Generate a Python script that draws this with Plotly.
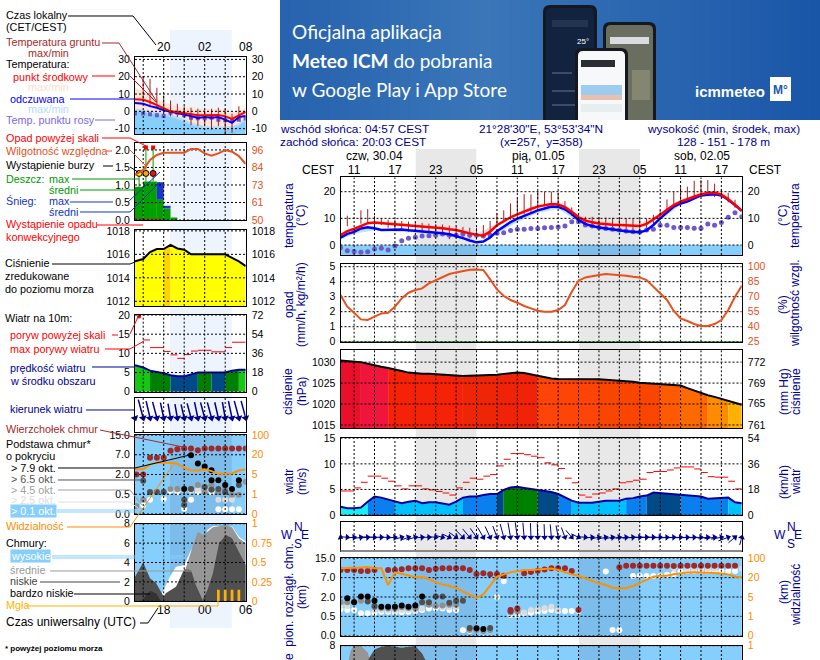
import numpy as np
import plotly.graph_objects as go

W, H = 820, 660
FONT = "Liberation Sans"
NAVY = "#000090"
SKY = "#86cefc"
SKY_BAND = "#7cbdeb"
ORANGE = "#ff8c00"
RH_COL = "#e8501c"

# ---- hourly data of the main (60 h) meteogram, hour 0 = 11:00 CEST on 30.04
hours = list(range(-2, 58))
t_mid = [3.7, 5.2, 6.0, 7.2, 8.2, 8.4, 8.1, 8.0, 7.8, 7.6, 7.4, 7.1, 6.9, 6.8, 6.6, 6.3, 5.9, 5.6, 5.0, 4.4,
         3.8, 3.5, 5.0, 7.4, 8.9, 10.4, 11.5, 12.6, 13.5, 14.4, 15.0, 15.4, 15.2, 14.2, 12.5, 10.4, 9.2, 8.5, 8.1, 7.8,
         7.6, 7.5, 7.3, 7.2, 7.1, 7.9, 9.5, 11.3, 13.2, 15.0, 16.3, 17.1, 18.1, 19.0, 19.5, 19.6, 18.9, 17.2, 15.2, 12.9]
t_feel = [2.8, 4.2, 4.9, 6.2, 6.7, 6.3, 5.6, 5.6, 5.8, 5.8, 5.5, 5.3, 5.2, 4.8, 4.6, 4.4, 4.0, 3.4, 2.6, 1.7,
          1.0, 1.3, 2.8, 5.2, 7.0, 8.6, 9.9, 11.0, 12.0, 13.0, 13.7, 14.4, 14.3, 13.4, 11.6, 9.4, 7.9, 7.1, 6.6, 6.2,
          5.9, 5.6, 5.2, 5.0, 4.8, 5.5, 7.5, 10.0, 12.3, 14.4, 15.6, 16.3, 17.5, 18.6, 18.9, 19.0, 18.6, 17.0, 15.0, 12.8]
t_dew = [-1, -2.2, -2.4, -2.7, -2.5, -1.5, -1.2, -1.9, -0.4, 1.6, 2.5, 2.9, 3.4, 3.5, 3.7, 4.1, 3.7, 3.7, 4.1, 3.7,
         3.7, 3.4, 3.7, 4.4, 4.6, 5.4, 5.9, 5.9, 6.2, 6.2, 6.5, 6.6, 6.8, 7.1, 8.75, 8.75, 7.5, 7.1, 6.6, 6.2,
         5.9, 5.6, 5.3, 5.0, 4.9, 5.6, 5.9, 7.4, 7.4, 6.6, 6.6, 6.6, 6.3, 6.3, 7.9, 7.4, 8.4, 10.4, 12.1, 10.6]
ground_max = [None, 11, None, 13, 13.5, 11, 10, 9.5, 9.5, 9, 8.8, 8.5, 8.3, 8, 7.8, 7.7, 7.3, 7, 6.8, 6.5,
              6.5, 7.5, 9, 11.9, 13, 15.6, 17.5, 19.1, 19, 20, 20, 20, 19.6, 16.5, 14.1, 11.9, 10.6, 10.6, 10.4, 10.3,
              10.2, 10, 10, 10, 9.8, 10, 11.3, 13, 17.1, 20, 21.9, 21.9, 24.1, 24.4, 24.4, 23, 21, 19.6, 17, None]
ground_min = [None, 7, None, 8, 8, 7.5, 7.5, 6.5, 6, 5.6, 5, 4.8, 4.7, 4.5, 4.2, 3.7, 2.2, 3.5, 3, 2.5,
              2, 2.5, 4.5, 7, 8.5, 9.5, 10.5, 11.5, 12.5, 13.5, 14.5, 15, 14.5, 13, 11, 9.4, 7.7, 6.9, 6.3, 5.8,
              5.5, 5.1, 5, 4.9, 4.8, 6, 8, 11, 13, 15, 16, 16.8, 17.5, 18, 18.5, 18, 17.5, 16, 14, None]
band_h = [-2, 0, 3, 6, 9, 12, 15, 18, 21, 24, 27, 30, 33, 36, 39, 42, 45, 48, 51, 54, 57]
t_mid_hi = [4.2, 6.8, 9, 8.5, 7.6, 7.2, 6.3, 4.3, 8, 12.2, 15.3, 16, 11.5, 9, 8.3, 8, 12, 17, 20, 20.3, 13.8]
t_feel_lo = [2, 4.2, 5.5, 5, 4.7, 3.8, 2.8, 0.4, 4.5, 8.5, 12, 13.6, 8.5, 5.6, 4.5, 3.9, 9.5, 15, 18, 18.5, 12]

humidity = [71.7, 60, 54, 47.3, 46.7, 50, 53.3, 54, 60, 68.3, 74, 76.7, 78.3, 83.3, 86.7, 89.3, 92.7, 94.3, 96, 97,
            97.3, 96.7, 87.3, 77.3, 70.7, 66.7, 64, 60.7, 58.3, 56, 55, 55, 56.7, 61.7, 75, 86, 89.3, 90.7, 91.7, 92.7,
            92.3, 91.7, 91, 90, 89.3, 86.7, 80, 74, 66.7, 55.7, 48.3, 45.7, 42.7, 40.7, 40.7, 42.7, 46.7, 56.7, 70, 81]
rain = [0] * 60

pressure = [1030.4, 1030.3, 1030.2, 1030.0, 1029.6, 1029.2, 1028.9, 1028.6, 1028.3, 1027.9, 1027.5, 1027.3,
            1027.25, 1027.2, 1027.1, 1026.9, 1026.75, 1026.7, 1026.7, 1026.75, 1026.8, 1026.9, 1026.95, 1027.0,
            1027.2, 1027.4, 1027.5, 1027.4, 1027.1, 1026.7, 1026.4, 1026.1, 1026.0, 1026.0, 1026.05, 1026.0,
            1026.0, 1025.95, 1025.9, 1025.8, 1025.7, 1025.6, 1025.45, 1025.3, 1025.1, 1025.0, 1024.85, 1024.7,
            1024.6, 1024.5, 1024.4, 1023.8, 1023.2, 1022.6, 1022.1, 1021.7, 1021.2, 1020.7, 1020.2, 1019.8]
pressure_breaks = [-2, 1, 5, 16, 21, 27, 36, 45, 48, 52, 55, 57]
pressure_cols = ["#ea0f2a", "#f0153c", "#f52208", "#ee2605", "#f02208", "#ff4408", "#f84500", "#ff5a00",
                 "#ff6a00", "#ff8c00", "#ffb000"]

wind = [1.6, 1.3, 1.3, 1.45, 2.6, 3.6, 3.4, 3.0, 2.6, 2.3, 2.6, 2.8, 2.3, 2.5, 2.5, 2.2, 2.0, 2.6, 3.4, 3.6,
        3.6, 3.9, 4.1, 4.1, 4.9, 5.4, 5.5, 5.3, 5.1, 4.9, 4.6, 4.5, 4.1, 3.4, 2.8, 2.4, 2.4, 2.4, 2.6, 2.8,
        2.8, 2.8, 3.2, 3.3, 3.6, 3.8, 4.4, 4.3, 4.1, 4.1, 3.9, 3.9, 3.8, 3.6, 3.2, 3.3, 3.35, 3.4, 2.5, 2.3]
gust = [4.7, 4.7, 5.3, 6.4, 7.6, 7.6, 7.2, 6.6, 5.7, 5.1, 5.7, 5.7, 5.1, 4.9, 4.6, 4.3, 3.9, 5.3, 6.4, 7.2,
        7.0, 7.6, 7.9, 9.6, 10.9, 12, 12, 11.8, 11.5, 11.2, 10.2, 9.8, 9.1, 7.2, 6.3, 3.9, 3.5, 4.1, 4.3, 4.7,
        5.1, 6.3, 6.5, 6.8, 7.0, 8.3, 8.5, 8.5, 8.8, 9.2, 9.4, 9.4, 9.0, 8.3, 7.5, 7.4, 7.4, 6.6, 5.1]
wind_breaks = [-2, 2, 6, 16, 21, 22, 27, 30, 32, 40, 43, 48, 55, 57]
wind_cols = ["#14f0f5", "#0a80ee", "#00c0ff", "#0a80ee", "#004a88", "#008000", "#004a88", "#0a80ee",
             "#00c0ff", "#0a80ee", "#004a88", "#0a80ee", "#00c0ff"]
wind_dir = [115, 95, 85, 80, 85, 92, 90, 90, 85, 75, 70, 75, 85, 90, 95, 105, 115, 125, 135, 140,
            145, 150, 155, 160, 165, 170, 172, 175, 178, 178, 178, 175, 170, 160, 140, 115, 95, 85, 80, 78,
            80, 82, 85, 85, 88, 90, 90, 90, 88, 88, 88, 88, 88, 88, 85, 82, 80, 70, 50, 15]

top_km = [10.2, 10.2, 10.2, 9.8, 9.7, 10.2, 10.2, 10.2, 10.5, 10.85, 10.85, 10.85, 10.2, 10.7, 10.85, 10.85, 10.85,
          10.85, 10.2, 8.5, 8.8, 8.4, 8.5, 7.8, 1.0, 1.1, 8.8, 9.3, 9.9, 10.4, 10.85, 10.85, 10.85, 9.7, 1.0,
          11.3, 11.96, 11.96, 11.96, 11.96, 11.96, 11.96, 11.96, 11.8, 11.96, 11.96, 11.96, 11.96, 11.96, 11.96, 11.96, 11.96, 11.96]
top_h = [-2, -1, 0, 1, 2, 3, 5, 6, 7, 8, 9, 10, 11, 12, 13, 14, 15, 16, 17, 18, 19, 20, 21, 22, 23, 24,
         25, 26, 27, 28, 29, 30, 31, 32, 33, 39, 40, 41, 42, 43, 44, 45, 46, 47, 48, 49, 50, 51, 52, 53, 54, 55, 56]
b79_h = [-1, 0, 1, 2, 3, 4, 5, 6, 7, 8, 9, 10, 18, 19]
b79_km = [1.9, 1.6, 2.1, 2.1, 1.7, 1.25, 1.25, 1.25, 1.35, 1.25, 1.35, 2.1, 0.19, 0.17]
b65_h = [2, 3, 10, 11, 12, 13, 14, 15, 16, 17, 20, 23]
b65_km = [1.65, 1.3, 1.6, 1.6, 2.1, 2.1, 1.55, 1.7, 1.7, 0.2, 0.2, 0.9]
b45_h = [-2, -1, 0, 1, 3, 4, 5, 6, 7, 8, 9, 11, 12, 13, 14, 15, 17, 18, 19, 20, 23, 24]
b45_km = [1.6, 1.6, 1.65, 1.7, 1.2, 1.15, 1.1, 1.1, 1.2, 1.15, 1.1, 1.4, 1.3, 1.35, 1.4, 1.4, 0.15, 0.15, 0.12, 0.15, 0.8, 0.9]
b25_h = [-2, -1, 3, 4, 5, 6, 7, 8, 9, 10, 13, 14, 15, 24, 25, 26, 27, 28, 29, 30, 47, 49, 50, 51, 52, 53, 57]
b25_km = [1.3, 1.3, 1.0, 1.0, 0.95, 0.95, 1.0, 1.0, 1.0, 1.1, 1.2, 1.2, 1.2, 0.8, 0.8, 1.0, 1.05, 1.15, 1.25, 1.0, 10.9, 10.7, 10.7, 10.7, 10.7, 10.7, 10.7]
b01_h = [-2, -1, 0, 1, 2, 3, 4, 5, 6, 7, 8, 9, 10, 11, 12, 13, 14, 15, 16, 17, 21, 22, 23, 24, 25, 26, 27, 28, 29, 30, 31, 32, 33,
         37, 38, 39, 41, 42, 43, 44, 45, 46, 47, 48, 49, 50, 51, 52, 53, 54, 55, 56]
b01_km = [1.05, 1.0, 1.0, 0.74, 0.74, 0.78, 0.86, 0.86, 0.82, 0.82, 0.86, 0.92, 1.0, 1.1, 1.1, 1.1, 1.0, 1.0, 0.14, 0.13, 2.0, 6.1,
          0.6, 0.6, 0.74, 0.78, 0.86, 0.92, 1.0, 0.92, 0.92, 0.92, 0.92, 9.5, 0.15, 0.15, 7.7, 7.7, 7.7, 7.7, 7.7, 8.2, 8.5, 9.5, 9.8, 9.8, 9.8, 9.8, 9.8, 9.8, 9.8, 9.8]
visibility = [58.6, 58.6, 61.6, 61.6, 64, 58.6, 58.6, 14.3, 42, 35, 28, 22.4, 22.4, 19, 16.1, 14.9, 13.3, 12.2, 9.2, 6.5,
              4.8, 7, 14.3, 24, 33.6, 42, 46.4, 52, 52, 54.4, 57.6, 57.6, 52, 42, 33.6, 28, 19.5, 17.6, 15.6, 14.3,
              12.2, 11.8, 11.8, 13.5, 16.1, 18.7, 24, 28, 28, 33.6, 37.6, 40.8, 42, 42, 40.8, 39, 37.6, 33.6, 24, 22.4]
cl_mid_h = [-2, -0.8, -0.5, 0, 1, 2, 2.6]
cl_mid = [6, 6.5, 7.5, 8, 8, 7.3, 6]
cl_low_h = [1.6, 2, 3, 4, 5, 6, 7, 8, 9, 10, 10.5, 11]
cl_low = [6, 6.5, 7.6, 7.9, 8, 7.9, 7.8, 7.9, 7.95, 7.2, 6.5, 6]

# ---- 16 h panel on the left, hour labels are local time
hours_l = [15.8] + list(range(17, 33))
temp_l = [7, 6.7, 5.4, 3.5, 1.5, 0, -0.4, -1, -1.7, -2.3, -2.3, -2.3, -2.1, -2.9, -4.4, -2.3, -0.4]
feel_l = [4.8, 4.4, 3, 2.1, 0.6, -0.2, -1, -1.7, -2.7, -3.8, -3.3, -3.7, -3.3, -4.8, -6.7, -3.3, -2.7]
dew_l = [-1.3, -1.3, -1.7, -2.3, -2.7, -0.8, -0.8, -2.3, -3.7, -4, -4, -3.7, -4.8, -5.2, -5.6, -4.8, -4.2]
temp_hi_l = [13.5, 11.7, 9.2, 7.3, 5.4, 4, 2.9, 2.1, 2.5, 2.1, 1.5, 1.2, 1.5, 1.2, -0.4, 0, 2.5]
feel_lo_l = [0, -0.5, -1.2, -1.8, -2.5, -3.3, -4.5, -6, -8, -9, -9.8, -10.2, -10.2, -10.2, -10, -8.5, -5.2]
ground_max_l = [None, 20.2, 18.8, 13.6, 9.2, 6.3, 4.4, 2.9, 2.1, 1.5, 0.6, 1.5, 2.1, 1.5, -1.3, 2.9, None]
ground_min_l = [None, 6.3, 3.5, 2.5, 1.5, -2.9, -3.3, -2.3, -8, -8.6, -8, -10.6, -8.6, -12.9, -12.5, -5.2, None]

rain_h = [16.4, 17.5, 18.5, 19.5, 20.5, 21.5]
rain_w = [1.2, 1, 1, 1, 1, 1]
rain_l = [0.95, 1.1, 1.1, 0.58, 0.33, 0.07]
snow_l = [0, 0, 0, 0.5, 0.08, 0]
rain_max_h = [16.4, 17.4, 18.45]
rain_max = [1.33, 2.07, 2.07]
over_scale_h = [17.4, 18.45]
over_scale = [2.07, 2.07]
storm = [1.33, 1.33, 1.33]
storm_cols = ["#ffee00", "#ffa000", "#ee1010"]
humidity_l = [79.6, 82.9, 89.4, 92.7, 94.2, 94.2, 94.2, 94.2, 96.7, 96.7, 93.8, 92.3, 93.8, 96, 94.9, 92, 86.8]

pressure_l = [1015.4, 1015.6, 1016.2, 1016.45, 1016.45, 1016.8, 1016.5, 1016.4, 1016, 1016, 1016, 1016, 1016, 1016, 1015.7, 1015.4, 1015]
pressure_l_breaks = [15.8, 20, 21, 32]
pressure_l_cols = ["#ffff00", "#ffd400", "#ffff00"]

wind_l = [6.9, 6.3, 5.5, 5.2, 4.8, 4.3, 4, 4, 4.5, 5, 5, 5, 5, 5, 5.5, 5.7, 5.7]
gust_l_h = [17, 18, 20, 21, 22, 23, 24, 25, 27, 29, 30]
gust_l_end = [18, 20, 21, 22, 23, 24, 25, 27, 29, 30, 32]
gust_l = [13.5, 11.5, 10.5, 9.6, 8.7, 9.7, 10.6, 10.8, 10.4, 11.5, 12.9]
wind_l_breaks = [15.8, 18, 21, 25, 27, 29, 31, 32]
wind_l_cols = ["#14c814", "#008000", "#004a88", "#008000", "#004a88", "#008000", "#14c814"]
wind_dir_l = [160, 165, 167, 165, 168, 170, 170, 167, 165, 168, 165, 165, 167, 170, 168, 165, 165]

top_l_h = list(range(16, 33))
top_l = [2, 2, 6.25, 6.25, 6.25, 8.6, 9.2, 9.5, 9.5, 8.8, 9.5, 9.5, 9.5, 9.5, 9.5, 9.5, 9.5]
b79_l_h = [23, 24, 25, 26, 27, 27, 28, 29, 30, 31]
b79_l = [0.9, 6.9, 4.8, 4, 3.1, 1.56, 1.56, 1.2, 0.9, 1.56]
b65_l_h = [17, 18, 19, 20, 23, 23, 24, 26, 27, 28, 29, 31]
b65_l = [1.53, 0.67, 0.67, 0.67, 0.36, 0.23, 0.9, 1.05, 0.85, 0.9, 0.67, 1.2]
b45_l_h = [16, 17, 21, 22, 24, 25, 26, 27, 28, 29, 30, 31, 32]
b45_l = [0.2, 0.36, 0.9, 0.9, 0.9, 1.2, 0.67, 1.2, 0.67, 0.9, 0.49, 0.49, 1.45]
b25_l_h = [16, 21, 22, 23, 24, 25, 26, 28, 29, 30]
b25_l = [0.2, 0.9, 0.85, 0.85, 0.75, 0.85, 0.75, 0.36, 0.36, 0.36]
b01_l_h = [17, 18, 20, 23, 24, 21, 22, 25, 26, 27, 28, 29, 30, 31]
b01_l = [0.23, 0.36, 0.38, 0.13, 0.36, 0.75, 0.67, 0.67, 0.67, 0.67, 0.12, 0.12, 0.12, 0.12]
vis_l = [8.9, 8.9, 12.7, 14, 14, 14, 13.2, 10.1, 8, 8, 8.9, 7.6, 5.5, 5.5, 5.8, 8, 8.9]

cl_high_h = [19.2, 20, 20.9, 21.8, 23, 24, 24.7, 25.7, 26.4, 27.2, 30, 31, 32]
cl_high = [0, 1.17, 2.54, 3.57, 3.75, 5.3, 6, 6, 7.35, 7.77, 7.7, 6.67, 6.15]
cl_mid_l_h = [21.8, 23, 24.3, 25, 25.7, 26.4, 27.2, 29.1, 30, 31, 32]
cl_mid_l = [0.82, 2.89, 5.8, 7.18, 6.84, 7.18, 7.63, 7.87, 7.63, 6.5, 5.98]
cl_low_l_h = [15.8, 17, 18, 18.9, 20, 20.3, 21.8, 23, 24, 24.7, 25.7, 26.4, 27.2, 28.1, 29.1, 30, 31, 32]
cl_low_l = [2.54, 3.99, 2.37, 1.86, 0.48, 0.82, 1.51, 3.3, 3.23, 1.68, 0.14, 1.17, 2.89, 5.98, 6.84, 6.5, 5.12, 3.75]
cl_vlow_h = [16.8, 17.5, 18, 18.9, 19.6]
cl_vlow = [0, 0.7, 1.1, 0.8, 0]
fog_h = [28, 29, 30, 31]
fog = [0.15, 0.15, 0.15, 0.15]

for series in (t_mid, t_feel, t_dew, ground_max, ground_min, humidity, pressure, wind, wind_dir, visibility):
    assert len(series) == 60, len(series)

BASE_KM = [0, 0.5, 2, 7, 15]
VIS_KM = [0, 1, 5, 20, 100]
LEVELS = [0, 1, 2, 3, 4]


def base_idx(km):
    return np.interp(km, BASE_KM, LEVELS)


def vis_idx(km):
    return np.interp(km, VIS_KM, LEVELS)


fig = go.Figure()
layout = {}
shapes = []
notes = []
panels = []


def rect(x0, y0, x1, y1, color, layer="below"):
    shapes.append(dict(type="rect", xref="paper", yref="paper", x0=x0 / W, x1=x1 / W, y0=1 - y0 / H, y1=1 - y1 / H,
                       fillcolor=color, line_width=0, layer=layer))


def lead(points, color, width=1):
    path = "M" + " L".join(f"{x / W:.5f},{1 - y / H:.5f}" for x, y in points)
    shapes.append(dict(type="path", xref="paper", yref="paper", path=path,
                       line=dict(color=color, width=width), layer="above"))


def note(x, y, text, color="black", size=10.8, anchor="left", angle=0, bg=None):
    notes.append(dict(xref="paper", yref="paper", x=(x - 1 if anchor == "left" else x) / W, y=1 - y / H, text=text,
                      showarrow=False, xanchor=anchor, yanchor="middle", textangle=angle, bgcolor=bg, borderpad=0,
                      font=dict(family=FONT, size=size, color=color)))


def rounded(x0, y0, x1, y1, r, color):
    a, b, c, d = x0 / W, x1 / W, 1 - y0 / H, 1 - y1 / H
    rx, ry = r / W, r / H
    path = (f"M{a + rx},{c} L{b - rx},{c} Q{b},{c} {b},{c - ry} L{b},{d} L{a},{d} L{a},{c - ry} Q{a},{c} {a + rx},{c} Z")
    shapes.append(dict(type="path", xref="paper", yref="paper", path=path, fillcolor=color, line_width=0, layer="below"))


def panel(box, xr, xgrid, yr, yt, yl, rr=None, rt=None, rl=None, rcol="black", top=None, bottom=None, grid_y=True,
          xoff=0):
    n = len(panels) * 2 + 1
    x0, y0, x1, y1 = box
    rr, rt, rl = rr or yr, rt or yt, rl or yl
    dom_y = [1 - y1 / H, 1 - y0 / H]
    tick = dict(family=FONT, size=10.5, color="black")
    xticks = top or bottom or ([], [])
    layout[f"xaxis{n}"] = dict(domain=[x0 / W, x1 / W], range=xr, anchor=f"y{n}", showgrid=False, zeroline=False,
                               showline=True, mirror=True, linecolor="black", linewidth=1, ticks="",
                               tickmode="array", tickvals=xticks[0], ticktext=xticks[1], side="top" if top else "bottom",
                               tickfont=dict(family=FONT, size=12, color="black"), ticklabelstandoff=xoff)
    layout[f"yaxis{n}"] = dict(domain=dom_y, range=yr, anchor=f"x{n}", showgrid=False, zeroline=False, showline=True,
                               mirror=True, linecolor="black", linewidth=1, ticks="", tickmode="array", tickvals=yt,
                               ticktext=yl, tickfont=tick, ticklabelstandoff=2)
    layout[f"yaxis{n + 1}"] = dict(domain=dom_y, range=rr, anchor=f"x{n}", overlaying=f"y{n}", side="right",
                                   showgrid=False, zeroline=False, ticks="", tickmode="array", tickvals=rt, ticktext=rl,
                                   tickfont=dict(family=FONT, size=10.5, color=rcol), ticklabelstandoff=5)
    p = dict(x=f"x{n}", y=f"y{n}", r=f"y{n + 1}", xgrid=xgrid, ygrid=yt if grid_y else [], xr=xr)
    panels.append(p)
    fig.add_trace(go.Scatter(x=[xr[0]], y=[rt[0]], mode="none", xaxis=p["x"], yaxis=p["r"], hoverinfo="skip"))
    return p


def line(p, x, y, color, width=1, right=False, dash=None, shape=None):
    fig.add_trace(go.Scatter(x=x, y=y, mode="lines", xaxis=p["x"], yaxis=p["r"] if right else p["y"], hoverinfo="skip",
                             line=dict(color=color, width=width, dash=dash, shape=shape)))


def dots(p, x, y, color, size=6, symbol="circle", right=False):
    fig.add_trace(go.Scatter(x=x, y=y, mode="markers", xaxis=p["x"], yaxis=p["r"] if right else p["y"],
                             hoverinfo="skip", marker=dict(color=color, size=size, symbol=symbol, line_width=0)))


def poly(p, x, y, color):
    fig.add_trace(go.Scatter(x=list(x), y=list(y), mode="none", fill="toself", fillcolor=color, hoverinfo="skip",
                             xaxis=p["x"], yaxis=p["y"]))


def area(p, x, y, base, color):
    poly(p, list(x) + [x[-1], x[0]], list(y) + [base, base], color)


def steps(p, x, y, base, breaks, colors):
    # one polygon for each stretch of the same colour
    for a, b, col in zip(breaks[:-1], breaks[1:], colors):
        keep = [i for i, h in enumerate(x) if a <= h <= b]
        area(p, [x[i] for i in keep], [y[i] for i in keep], base, col)


def whiskers(p, x, lo, hi, color):
    xs, ys = [], []
    for h, a, b in zip(x, lo, hi):
        if a is not None:
            xs += [h, h, None]
            ys += [a, b, None]
    line(p, xs, ys, color)


def arrows(p, x, speed, direction, head_y, width=1, head=6):
    xs, ys = [], []
    dom = layout["xaxis" + p["x"][1:]]["domain"]
    px_per_h = (dom[1] - dom[0]) * W / (p["xr"][1] - p["xr"][0])
    for h, w, a in zip(x, speed, direction):
        length = 3 + 2.2 * w
        xs += [h - length * np.sin(np.radians(a)) / px_per_h, h, None]
        ys += [head_y - length * np.cos(np.radians(a)), head_y, None]
    fig.add_trace(go.Scatter(x=xs, y=ys, mode="lines", xaxis=p["x"], yaxis=p["y"], hoverinfo="skip", cliponaxis=False,
                             line=dict(color=NAVY, width=width)))
    fig.add_trace(go.Scatter(x=x, y=[head_y] * len(x), mode="markers", xaxis=p["x"], yaxis=p["y"], hoverinfo="skip",
                             cliponaxis=False, marker=dict(color=NAVY, size=head, symbol="triangle-up", angle=direction,
                                                           line_width=0)))


def cloud_base(p, series):
    for x, km, color in series:
        dots(p, x, base_idx(km), color, 6)


def sky(box, band):
    x0, y0, x1, y1 = box
    rect(x0, y0, x1, y1, SKY)
    for a, b in band:
        rect(max(a, x0), y0, min(b, x1), y1, SKY_BAND)


# ---- backgrounds
for i in range(54):
    t = abs(i - 20) / 34
    rect(280 + i * 10, 0, 290 + i * 10, 120, f"rgb({int(58 - 32 * t)},{int(118 - 32 * t)},{int(184 - 16 * t)})")
rect(170, 30, 231.7, 628, "#eef4fd")
rect(415.7, 149, 476.3, 660, "#e8e8e8")
rect(579, 149, 640, 660, "#e8e8e8")

# phones in the banner
rounded(543, 5, 597, 120, 7, "#15181f")
rounded(546, 8, 594, 120, 5, "#12233f")
rect(552, 20, 588, 27, "#22344f")
rect(552, 72, 572, 74, "#3c4c68")
rect(552, 90, 590, 92, "#3c4c68")
rect(552, 104, 590, 106, "#3c4c68")
rounded(603, 22, 656, 120, 7, "#15181f")
rounded(606, 25, 653, 120, 5, "#6a6e5e")
rect(610, 37, 649, 44, "#d8dce0")
rect(632, 70, 650, 100, "#858672")
rounded(575, 48, 628, 120, 7, "#15181f")
rounded(578, 51, 625, 120, 5, "#f6f8fa")
rect(581, 60, 615, 67, "#2a2e34")
rect(581, 85, 622, 95, "#9ecbf0")
rect(581, 95, 622, 100, "#e8c0b0")
rect(581, 104, 622, 112, "#e6eef0")
rect(770, 77, 791, 101, "#ffffff")
note(292, 32, "Oficjalna aplikacja", "white", 19)
note(292, 61, "<b>Meteo ICM</b> do pobrania", "white", 19)
note(292, 89, "w Google Play i App Store", "white", 19)
notes[-3]["font"]["family"] = notes[-2]["font"]["family"] = notes[-1]["font"]["family"] = "Lato"
note(577, 42, "25°", "white", 8)
note(695, 91, "<b>icmmeteo</b>", "white", 15)
note(780, 90, "<b>M°</b>", "#1c58a8", 12, "center")

# ---- left column
xr_l = [15.8, 32]
grid_l = [17, 20, 23, 26, 29]
ticks_l = [20, 26, 32]
band_l = [(170, 231.7)]

p = panel((135, 57, 245.7, 134), xr_l, grid_l, [-13.1, 31.4], [30, 20, 10, 0, -10], ["30", "20", "10", "0", "-10"],
          top=(ticks_l, ["20", "02", "08"]))
area(p, hours_l, temp_hi_l, -13.1, "#ffe4d8")
area(p, hours_l, [v + 1.5 for v in feel_lo_l], -13.1, "#b4dcf8")
area(p, hours_l, feel_lo_l, -13.1, SKY)
dots(p, hours_l, dew_l, "#6a5acd", 4, "square")
whiskers(p, hours_l, ground_min_l, ground_max_l, "#a52020")
line(p, hours_l, feel_l, "#0000ff", 2)
line(p, hours_l, temp_l, "#ff0000", 2)

p = panel((135, 143.3, 245.7, 220), xr_l, grid_l, [0, 2.19], [0, 0.5, 1, 1.5, 2], ["0.0", "0.5", "1.0", "1.5", "2.0"],
          rr=[50, 100.4], rt=[50, 61.5, 73, 84.5, 96], rl=["50", "61", "73", "84", "96"], rcol=RH_COL)
fig.add_trace(go.Bar(x=rain_h, y=rain_l, width=rain_w, marker=dict(color="#00a000", line_width=0), xaxis=p["x"],
                     yaxis=p["y"], hoverinfo="skip"))
fig.add_trace(go.Bar(x=rain_h, y=snow_l, base=rain_l, width=rain_w, marker=dict(color="#1a35d0", line_width=0),
                     xaxis=p["x"], yaxis=p["y"], hoverinfo="skip"))
whiskers(p, rain_max_h, rain_l, rain_max, "#00a000")
dots(p, over_scale_h, over_scale, "#ff0000", 4, "square")
fig.add_trace(go.Scatter(x=rain_max_h, y=storm, mode="markers", xaxis=p["x"], yaxis=p["y"], hoverinfo="skip",
                         marker=dict(color=storm_cols, size=6, line=dict(color="black", width=1))))
line(p, [15.8, 19.7], [0.02, 0.02], "#ff0000", 2, dash="2px,2px")
line(p, hours_l, humidity_l, RH_COL, 2, right=True)

p = panel((135, 229.7, 245.7, 306), xr_l, grid_l, [1011.6, 1018.1], [1018, 1016, 1014, 1012],
          ["1018", "1016", "1014", "1012"])
steps(p, hours_l, pressure_l, 1011.6, pressure_l_breaks, pressure_l_cols)
line(p, hours_l, pressure_l, "black", 2)

p = panel((135, 315, 245.7, 391.7), xr_l, grid_l, [0, 20], [20, 15, 10, 5, 0], ["20", "15", "10", "5", "0"],
          rr=[0, 72], rt=[72, 54, 36, 18, 0], rl=["72", "54", "36", "18", "0"])
steps(p, hours_l, wind_l, 0, wind_l_breaks, wind_l_cols)
line(p, hours_l, wind_l, "#0000a0", 2)
for a, b, v in zip(gust_l_h, gust_l_end, gust_l):
    line(p, [a, b], [v, v], "#ff0000")
dots(p, [16.4], [19.6], "#ff0000", 4)

p = panel((135, 398, 245.7, 432), xr_l, grid_l, [0, 34], [], [], grid_y=False, rt=[0], rl=[""])
arrows(p, hours_l, [w + 1 for w in wind_l], wind_dir_l, 14, 1.5, 7)

sky((135, 435, 245.7, 514), band_l)
p = panel((135, 435, 245.7, 514), xr_l, grid_l, [0, 4], LEVELS, ["0.0", "0.5", "2.0", "7.0", "15.0"],
          rr=[0, 4], rt=LEVELS, rl=["0", "1", "5", "20", "100"], rcol=ORANGE)
cloud_base(p, [(b01_l_h, b01_l, "#ffffff"), (b25_l_h, b25_l, "#dcdcdc"), (b45_l_h, b45_l, "#8f8f8f"),
               (b65_l_h, b65_l, "#505050"), (b79_l_h, b79_l, "#000000"), (top_l_h, top_l, "#a02828")])
line(p, hours_l, vis_idx(vis_l), "#ff9000", 2, right=True)

sky((135, 523.7, 245.7, 601.3), band_l)
p = panel((135, 523.7, 245.7, 601.3), xr_l, grid_l, [0, 8], [8, 6, 4, 2, 0], ["8", "6", "4", "2", "0"],
          rr=[0, 1], rt=[1, 0.75, 0.5, 0.25, 0], rl=["1", "0.75", "0.5", "0.25", "0"], rcol=ORANGE,
          bottom=(ticks_l, ["18", "00", "06"]), xoff=-3)
area(p, cl_high_h, cl_high, 0, "#ffffff")
area(p, cl_mid_l_h, cl_mid_l, 0, "#969696")
area(p, cl_low_l_h, cl_low_l, 0, "#505050")
area(p, cl_vlow_h, cl_vlow, 0, "#333333")
fig.add_trace(go.Bar(x=fog_h, y=fog, width=0.4, marker=dict(color="#ffb000", line_width=0), xaxis=p["x"], yaxis=p["r"],
                     hoverinfo="skip"))

# ---- main column
xr = [-2, 57]
grid_m = list(range(0, 57, 3))
box_x = (340.5, 741.8)
ticks_m = list(range(0, 55, 6))
labels_m = ["11", "17", "23", "05", "11", "17", "23", "05", "11", "17"]

rect(box_x[0], 245, box_x[1], 255, SKY)
rect(415.7, 245, 476.3, 255, SKY_BAND)
rect(579, 245, 640, 255, SKY_BAND)
p = panel((box_x[0], 177.3, box_x[1], 255), xr, grid_m, [-3.75, 25.4], [20, 10, 0], ["20", "10", "0"],
          top=(ticks_m, labels_m), xoff=-2)
poly(p, band_h + hours[::-1], t_mid_hi + t_mid[::-1], "#ffdcd6")
poly(p, hours + band_h[::-1], t_feel + t_feel_lo[::-1], "#bfe3fa")
whiskers(p, hours, ground_min, ground_max, "#a52020")
dots(p, hours, t_dew, "#6a5acd", 5)
line(p, hours, t_feel, "#0000ff", 2.5)
line(p, hours, t_mid, "#ff0000", 2.5)

p = panel((box_x[0], 264, box_x[1], 341.7), xr, grid_m, [0, 5.18], [5, 4, 3, 2, 1, 0], ["5", "4", "3", "2", "1", "0"],
          rr=[25, 102.7], rt=[100, 85, 70, 55, 40, 25], rl=["100", "85", "70", "55", "40", "25"], rcol=RH_COL)
line(p, hours, rain, "#00a000")
line(p, hours, humidity, RH_COL, 2, right=True)

p = panel((box_x[0], 350, box_x[1], 428.3), xr, grid_m, [1014.2, 1032.9], [1030, 1025, 1020, 1015],
          ["1030", "1025", "1020", "1015"], rr=[1014.2 * 0.75006, 1032.9 * 0.75006], rt=[772.6, 768.8, 765.1, 761.3],
          rl=["772", "769", "765", "761"])
steps(p, hours, pressure, 1014.2, pressure_breaks, pressure_cols)
line(p, hours, pressure, "black", 2)

p = panel((box_x[0], 438.3, box_x[1], 515), xr, grid_m, [0, 15], [15, 10, 5, 0], ["15", "10", "5", "0"],
          rr=[0, 54], rt=[54, 36, 18, 0], rl=["54", "36", "18", "0"])
steps(p, hours, wind, 0, wind_breaks, wind_cols)
line(p, hours, wind, "#0000a0", 2)
for h, v in zip(hours, gust):
    line(p, [h, h + 1], [v, v], "#ff0000")

p = panel((box_x[0], 521.7, box_x[1], 551), xr, grid_m, [0, 29.3], [], [], grid_y=False, rt=[0], rl=[""])
arrows(p, hours, wind, wind_dir, 13.7)
rect(box_x[0], 550, box_x[1], 552, "#888888", "above")

band_m = [(415.7, 476.3), (579, 640)]
sky((box_x[0], 558.3, box_x[1], 635.7), band_m)
p = panel((box_x[0], 558.3, box_x[1], 635.7), xr, grid_m, [0, 4], LEVELS, ["0.0", "0.5", "2.0", "7.0", "15.0"],
          rr=[0, 4], rt=LEVELS, rl=["0", "1", "5", "20", "100"], rcol=ORANGE)
cloud_base(p, [(b01_h, b01_km, "#ffffff"), (b25_h, b25_km, "#dcdcdc"), (b45_h, b45_km, "#8f8f8f"),
               (b65_h, b65_km, "#505050"), (b79_h, b79_km, "#000000"), (top_h, top_km, "#a02828")])
line(p, hours, vis_idx(visibility), "#ff9000", 2, right=True)

sky((box_x[0], 645.7, box_x[1], 660), band_m)
p = panel((box_x[0], 645.7, box_x[1], 660), xr, grid_m, [6.53, 8], [8], ["8"], rr=[0.816, 1], rt=[1], rl=["1"],
          rcol=ORANGE)
area(p, cl_mid_h, cl_mid, 6, "#969696")
area(p, cl_low_h, cl_low, 6, "#505050")

# dashed grid goes on top of all the filled areas
for p in panels:
    xs, ys = [], []
    y_lo, y_hi = layout["yaxis" + p["y"][1:]]["range"]
    for v in p["xgrid"]:
        xs += [v, v, None]
        ys += [y_lo, y_hi, None]
    for v in p["ygrid"]:
        xs += [p["xr"][0], p["xr"][1], None]
        ys += [v, v, None]
    line(p, xs, ys, "black", 1, dash="2px,2px")

# ---- texts of the main column
note(280, 129, "wschód słońca: 04:57 CEST", NAVY, 11.8)
note(280, 142, "zachód słońca: 20:03 CEST", NAVY, 11.8)
note(541, 129, "21°28'30\"E, 53°53'34\"N", NAVY, 11.8, anchor="center")
note(541, 142, "(x=257,  y=358)", NAVY, 11.8, anchor="center")
note(723, 129, "wysokość (min, środek, max)", NAVY, 11.8, anchor="center")
note(723, 142, "128 - 151 - 178 m", NAVY, 11.8, anchor="center")
for x, label in zip([374, 538, 702], ["czw, 30.04", "pią, 01.05", "sob, 02.05"]):
    note(x, 156, label, size=12, anchor="center")
note(318, 170, "CEST", size=12, anchor="center")
note(765, 170, "CEST", size=12, anchor="center")

side_labels = [
    (289, 216, "temperatura"), (301, 216, "(°C)"), (783, 216, "(°C)"), (795, 216, "temperatura"),
    (289, 305, "opad"), (301, 305, "(mm/h, kg/m²/h)"), (783, 305, "(%)"), (795, 303, "wilgotność wzgl."),
    (288, 392, "ciśnienie"), (302, 392, "(hPa)"), (784, 392, "(mm Hg)"), (796, 392, "ciśnienie"),
    (289, 482, "wiatr"), (302, 482, "(m/s)"), (784, 482, "(km/h)"), (796, 482, "wiatr"),
    (289, 602, "e  pion. rozciągł. chm."), (302, 597, "(km)"), (784, 592, "(km)"), (796, 595, "widzialność"),
]
for x, y, text in side_labels:
    note(x, y, text, NAVY, 12, anchor="center", angle=-90)
for dx in (0, 493):
    note(287 + dx, 535, "W", NAVY, 12, "center")
    note(298 + dx, 527, "N", NAVY, 12, "center")
    note(305 + dx, 535, "E", NAVY, 12, "center")
    note(298 + dx, 544, "S", NAVY, 12, "center")

# ---- labels and leader lines of the left column
DARKRED, PALE_RED, PALE_BLUE, PURPLE = "#a52a2a", "#ffdccc", "#b0dcfa", "#7b68ee"
GREEN, SNOW, GOLD = "#009900", "#1133cc", "#ffb400"
left_labels = [
    (6, 15, "Czas lokalny", "black"), (6, 27, "(CET/CEST)", "black"),
    (6, 42, "Temperatura gruntu", DARKRED), (28, 53, "max/min", DARKRED), (6, 64, "Temperatura:", "black"),
    (13, 77, "punkt środkowy", "#ff0000"), (28, 87, "max/min", PALE_RED), (10, 99, "odczuwana", "#0000ff"),
    (28, 109, "max/min", PALE_BLUE), (6, 120, "Temp. punktu rosy", PURPLE), (6, 138, "Opad powyżej skali", "#ff0000"),
    (6, 151, "Wilgotność względna", RH_COL), (6, 165, "Wystąpienie burzy", "black"), (6, 179, "Deszcz:", GREEN),
    (49, 179, "max", GREEN), (49, 190, "średni", GREEN), (6, 201, "Śnieg:", SNOW), (49, 201, "max", SNOW),
    (49, 212, "średni", SNOW), (6, 224, "Wystąpienie opadu", "#ff0000"), (6, 237, "konwekcyjnego", "#ff0000"),
    (5, 263, "Ciśnienie", "black"), (5, 276, "zredukowane", "black"), (5, 289, "do poziomu morza", "black"),
    (5, 318, "Wiatr na 10m:", "black"), (10, 335, "poryw powyżej skali", "#ff0000"),
    (10, 349, "max porywy wiatru", "#ff0000"), (10, 368, "prędkość wiatru", NAVY), (10, 381, "w środku obszaru", NAVY),
    (10, 409, "kierunek wiatru", NAVY), (6, 429, "Wierzchołek chmur", DARKRED), (6, 444, "Podstawa chmur*", "black"),
    (6, 456, "o pokryciu", "black"), (11, 468, "> 7.9 okt.", "black"), (11, 479, "> 6.5 okt.", "#555555"),
    (11, 490, "> 4.5 okt.", "#a0a0a0"), (11, 500, "> 2.5 okt.", "#dddddd"), (6, 526, "Widzialność", ORANGE),
    (6, 543, "Chmury:", "black"), (10, 570, "średnie", "#999999"), (10, 581, "niskie", "#444444"),
    (10, 593, "bardzo niskie", "black"), (6, 605, "Mgła", GOLD),
]
for x, y, text, color in left_labels:
    note(x, y, text, color)
note(6, 622, "Czas uniwersalny (UTC)", size=12)
note(11, 511, "> 0.1 okt.", "white", bg=SKY)
note(11, 556, "wysokie", "white", bg=SKY)
note(5, 648, "<b>* powyżej poziomu morza</b>", "black", 8)

leaders = [
    ([(68, 16), (133, 16), (156, 45)], "black"), ([(102, 43), (119, 43), (157, 102)], DARKRED),
    ([(92, 76), (115, 76)], "#ff0000"), ([(130, 76), (156, 102)], "#ff0000"), ([(70, 99), (135, 99)], "#0000ff"),
    ([(95, 120), (115, 120)], PURPLE), ([(102, 138), (130, 138), (146, 146)], "#ff0000"),
    ([(106, 151), (112, 151)], RH_COL), ([(130, 150), (145, 165)], RH_COL), ([(103, 166), (113, 166)], "black"),
    ([(130, 167), (138, 172)], "black"), ([(72, 179), (139, 179)], GREEN), ([(80, 190), (147, 190)], GREEN),
    ([(70, 202), (113, 202)], SNOW), ([(128, 202), (160, 172)], SNOW), ([(80, 212), (130, 212), (160, 182)], SNOW),
    ([(97, 225), (143, 225)], "#ff0000"), ([(52, 264), (130, 264), (135, 262)], "black"),
    ([(112, 335), (118, 335)], "#ff0000"), ([(130, 334), (138, 317)], "#ff0000"),
    ([(105, 349), (130, 349), (144, 341)], "#ff0000"), ([(92, 367), (135, 367)], NAVY), ([(86, 410), (135, 410)], NAVY),
    ([(100, 430), (183, 447)], DARKRED), ([(58, 468), (135, 468), (190, 455)], "black"),
    ([(58, 480), (143, 480)], "#555555"), ([(58, 490), (130, 490), (142, 505)], "#a0a0a0"),
    ([(58, 502), (130, 502), (138, 508)], "#dddddd"), ([(57, 510), (135, 510)], SKY), ([(57, 512), (135, 512)], SKY),
    ([(67, 527), (130, 527), (173, 465)], ORANGE), ([(52, 556), (186, 556)], SKY), ([(52, 558), (186, 558)], SKY),
    ([(50, 571), (192, 571)], "#999999"), ([(40, 582), (120, 582)], "#444444"), ([(74, 594), (150, 594)], "black"),
    ([(26, 606), (218, 606), (218, 595)], GOLD), ([(140, 623), (148, 623), (158, 608)], "black"),
]
for points, color in leaders:
    lead(points, color)

fig.update_layout(
    width=W, height=H, autosize=False, margin=dict(l=0, r=0, t=0, b=0, pad=0, autoexpand=False), showlegend=False,
    barmode="overlay", paper_bgcolor="white", plot_bgcolor="rgba(0,0,0,0)", font=dict(family=FONT, size=12),
    shapes=shapes, annotations=notes, **layout,
)

page_css = ("var g=document.querySelector('.plotly-graph-div');g.style.position='fixed';g.style.left='0';g.style.top='0';"
            "var s=document.documentElement.style;s.margin='0';s.height='660px';s.overflow='hidden';"
            "s=document.body.style;s.margin='0';s.height='660px';s.overflow='hidden';")
fig.write_html("out.html", config={"displayModeBar": False}, post_script=page_css)
